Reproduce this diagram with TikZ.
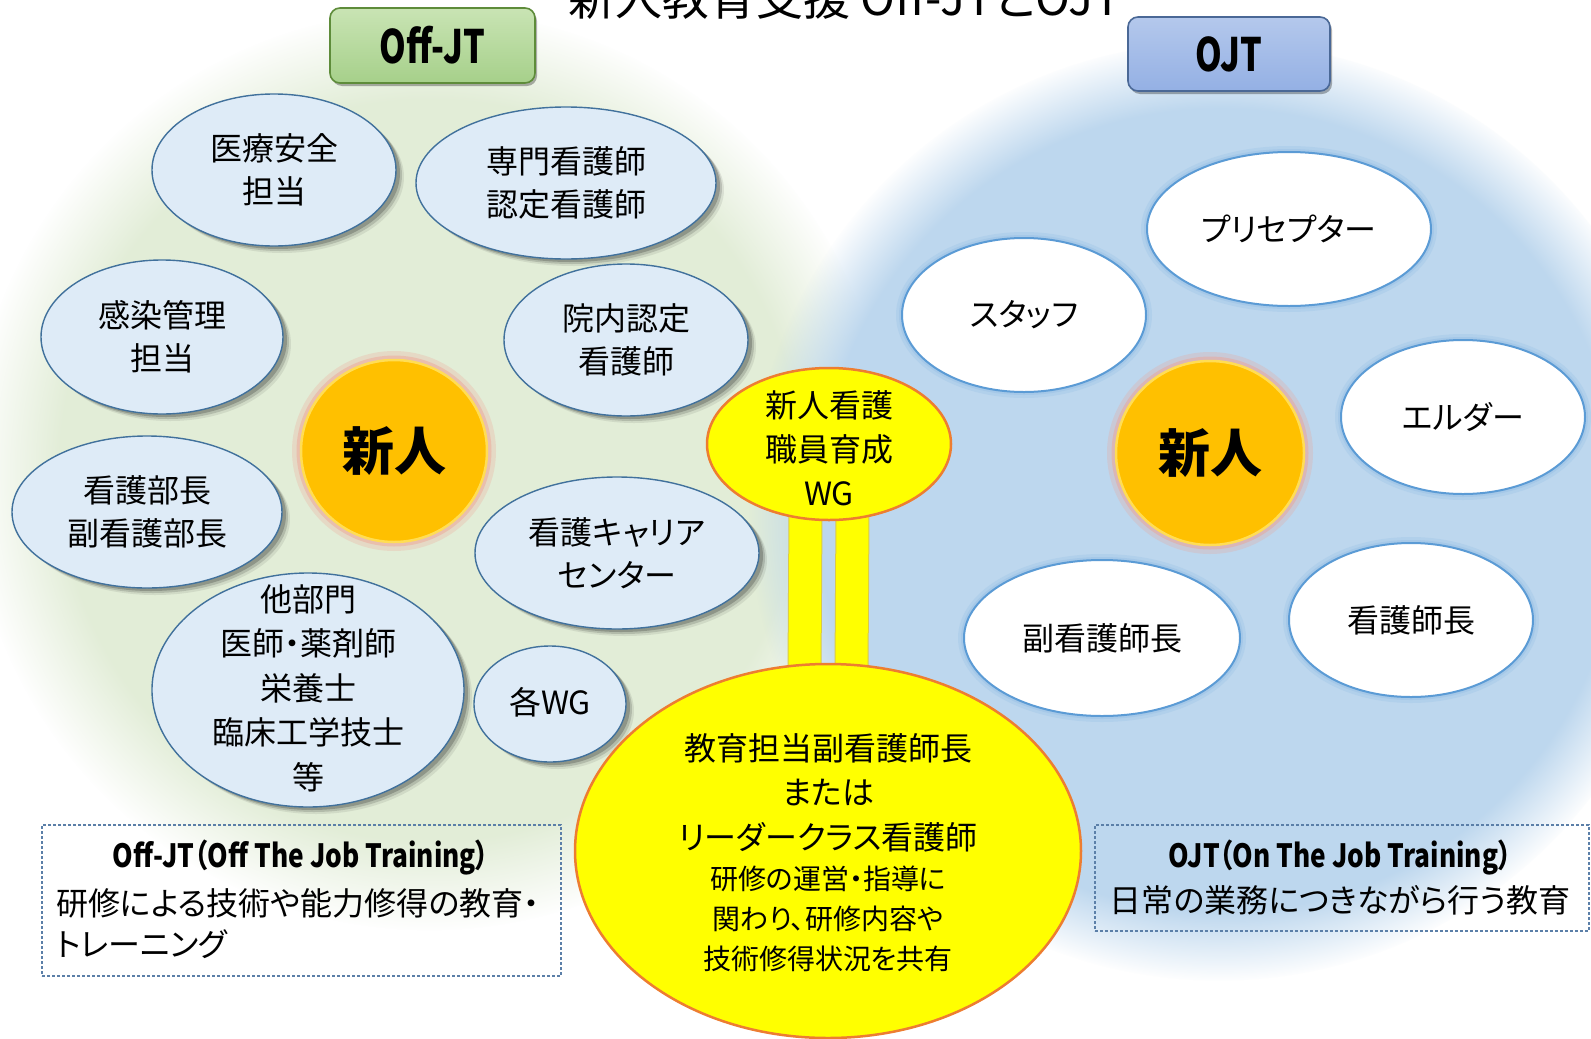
\documentclass[tikz,border=0pt]{standalone}
\usepackage{fontspec}
\setmainfont{Noto Sans CJK JP}[RawFeature=+palt]
\newfontfamily\hdrf{Noto Sans CJK JP}[FakeStretch=0.74,RawFeature=+palt]
\newfontfamily\ttlf{Noto Sans CJK JP}[FakeStretch=0.82,RawFeature=+palt]
\usetikzlibrary{shapes.geometric,fadings,calc}
\pgfdeclarelayer{blobs}
\pgfdeclarelayer{bars}
\pgfsetlayers{blobs,bars,main}
\definecolor{gblob}{HTML}{E2EDD7}
\definecolor{bblob}{HTML}{BDD7EE}
\definecolor{lfill}{HTML}{DEEBF7}
\definecolor{lbord}{HTML}{41719C}
\definecolor{rbord}{HTML}{5B9BD5}
\definecolor{rglow}{HTML}{9DC3E6}
\definecolor{yel}{HTML}{FFFF00}
\definecolor{yord}{HTML}{ED7D31}
\definecolor{barb}{HTML}{D9C94A}
\definecolor{orng}{HTML}{FFC000}
\definecolor{orngl}{HTML}{FFDD55}
\definecolor{pglow}{HTML}{F0A090}
\definecolor{dashc}{HTML}{5B7FA8}
\definecolor{gtop}{HTML}{C9E4B4}
\definecolor{gbot}{HTML}{A6D08A}
\definecolor{gbrd}{HTML}{5E8C3A}
\definecolor{btop}{HTML}{B4C8EC}
\definecolor{bbot}{HTML}{94B0E4}
\definecolor{bbrd}{HTML}{4A6896}
\newcommand\myfs[2]{\fontsize{#1}{#2}\selectfont}
\begin{document}
\begin{tikzpicture}[x=1pt,y=-1pt,
  lblob/.style={ellipse, inner sep=0pt, draw=lbord, fill=lfill, line width=1.4pt,
    preaction={fill=black, opacity=0.08, transform canvas={shift={(8pt,-7pt)}}},
    preaction={fill=black, opacity=0.14, transform canvas={shift={(6pt,-5pt)}}},
    preaction={fill=black, opacity=0.20, transform canvas={shift={(4pt,-3pt)}}}},
  rblob/.style={ellipse, inner sep=0pt, draw=rbord, fill=white, line width=2pt,
    preaction={draw=rglow, line width=12pt, opacity=0.35},
    preaction={draw=rglow, line width=6pt, opacity=0.6}},
  newbie/.style={ellipse, inner sep=0pt, fill=orng, draw=orngl, line width=2.5pt,
    preaction={draw=pglow, line width=18pt, opacity=0.25},
    preaction={draw=pglow, line width=9pt, opacity=0.45}},
  ybl/.style={ellipse, inner sep=0pt, fill=yel, draw=yord, line width=2.5pt},
  hdr/.style={rounded corners=10pt, line width=1.6pt, inner sep=0pt,
    font=\hdrf\bfseries\myfs{46}{46},
    preaction={fill=black, opacity=0.3, transform canvas={shift={(2pt,-3pt)}}}},
  dbox/.style={draw=dashc, dash pattern=on 3pt off 2pt, line width=1.2pt, inner sep=0pt},
  txt/.style={font=\myfs{32}{43}, align=center, inner sep=0pt},
  bartxt/.style={line width=32pt, draw=yel, preaction={draw=barb, line width=34pt}},
]
\useasboundingbox (0,0) rectangle (1591,1039);
\clip (0,0) rectangle (1591,1039);
\begin{pgfonlayer}{blobs}
\fill[white] (0,0) rectangle (1591,1039);
\fill[gblob, path fading=circle with fuzzy edge 20 percent] (430,470) circle (460);
\fill[bblob, path fading=circle with fuzzy edge 15 percent] (1220,510) circle (470);
\end{pgfonlayer}

% title (cut at top, as in the reference)
\node[font=\myfs{47}{52}, inner sep=0pt] (title) at (845,-2) {新人教育支援 Off-JTとOJT};

% header boxes
\node[hdr, draw=gbrd, top color=gtop, bottom color=gbot, minimum width=205pt, minimum height=75pt] (offjt) at (432.5,45.5) {Off-JT};
\node[hdr, draw=bbrd, top color=btop, bottom color=bbot, minimum width=202pt, minimum height=74pt] (ojt) at (1229,54) {OJT};

% left ellipses
\node[lblob, minimum width=244pt, minimum height=152pt] (e1) at (274,170) {};
\node[lblob, minimum width=300pt, minimum height=152pt] (e2) at (566,183) {};
\node[lblob, minimum width=242pt, minimum height=154pt] (e3) at (162,337) {};
\node[lblob, minimum width=244pt, minimum height=152pt] (e4) at (626,340) {};
\node[lblob, minimum width=270pt, minimum height=152pt] (e5) at (147,512) {};
\node[lblob, minimum width=284pt, minimum height=152pt] (e6) at (617,553) {};
\node[lblob, minimum width=312pt, minimum height=234pt] (e7) at (308,690) {};
\node[lblob, minimum width=152pt, minimum height=116pt] (e8) at (550,704) {};
\node[txt] (t1) at (e1) {医療安全\\担当};
\node[txt] (t2) at (e2) {専門看護師\\認定看護師};
\node[txt] (t3) at (e3) {感染管理\\担当};
\node[txt] (t4) at (e4) {院内認定\\看護師};
\node[txt] (t5) at (e5) {看護部長\\副看護部長};
\node[txt] (t6) at (e6) {看護キャリア\\センター};
\node[txt, font=\myfs{32}{44.5}] (t7) at ($(e7)+(0,-2)$) {他部門\\医師・薬剤師\\栄養士\\臨床工学技士\\等};
\node[txt] (t8) at ($(e8)+(0,-2)$) {各WG};

% newcomers
\node[newbie, minimum width=186pt, minimum height=182pt, font=\bfseries\myfs{52}{52}] (nl) at (394,451) {新人};
\node[newbie, minimum width=188pt, minimum height=184pt, font=\bfseries\myfs{52}{52}] (nr) at (1210,453) {新人};

% right ellipses
\node[rblob, minimum width=284pt, minimum height=154pt] (r1) at (1289,229) {};
\node[rblob, minimum width=244pt, minimum height=154pt] (r2) at (1024,315) {};
\node[rblob, minimum width=244pt, minimum height=154pt] (r3) at (1463,417) {};
\node[rblob, minimum width=276pt, minimum height=156pt] (r4) at (1102,638) {};
\node[rblob, minimum width=244pt, minimum height=154pt] (r5) at (1411,620) {};
\node[txt] (s1) at (r1) {プリセプター};
\node[txt] (s2) at (r2) {スタッフ};
\node[txt] (s3) at (r3) {エルダー};
\node[txt] (s4) at (r4) {副看護師長};
\node[txt] (s5) at (r5) {看護師長};

% yellow WG and education lead
\node[ybl, minimum width=244pt, minimum height=152pt] (wg) at (829,444) {};
\node[txt, font=\myfs{32}{44}] (wgt) at ($(wg)+(0,4)$) {新人看護\\職員育成\\WG};
\node[ybl, minimum width=506pt, minimum height=374pt] (big) at (828,851) {};
\node[txt, font=\myfs{32}{44.5}] (bigt1) at (828,792.5) {教育担当副看護師長\\または\\リーダークラス看護師};
\node[txt, font=\myfs{28}{40}] (bigt2) at (828,919) {研修の運営・指導に\\関わり、研修内容や\\技術修得状況を共有};

\begin{pgfonlayer}{bars}
\draw[bartxt] ([xshift=-23.5pt,yshift=8pt]wg.south) -- ([xshift=-23.5pt,yshift=-8pt]big.north);
\draw[bartxt] ([xshift=23.5pt,yshift=8pt]wg.south) -- ([xshift=23.5pt,yshift=-8pt]big.north);
\end{pgfonlayer}

% explanation boxes
\node[dbox, minimum width=519pt, minimum height=151pt] (lbox) at (301.5,900.5) {};
\node[txt, font=\ttlf\bfseries\myfs{32}{40}] (lboxt) at (301,858) {Off-JT（Off The Job Training）};
\node[txt, font=\myfs{32}{41}, align=left, anchor=west] (lboxb) at (56,923.5) {研修による技術や能力修得の教育・\\トレーニング};
\node[dbox, minimum width=494pt, minimum height=106pt] (rbox) at (1342,878) {};
\node[txt, font=\ttlf\bfseries\myfs{32}{40}] (rboxt) at (1340,858) {OJT（On The Job Training）};
\node[txt, font=\myfs{32}{41}] (rboxb) at (1340,900) {日常の業務につきながら行う教育};
\end{tikzpicture}
\end{document}
